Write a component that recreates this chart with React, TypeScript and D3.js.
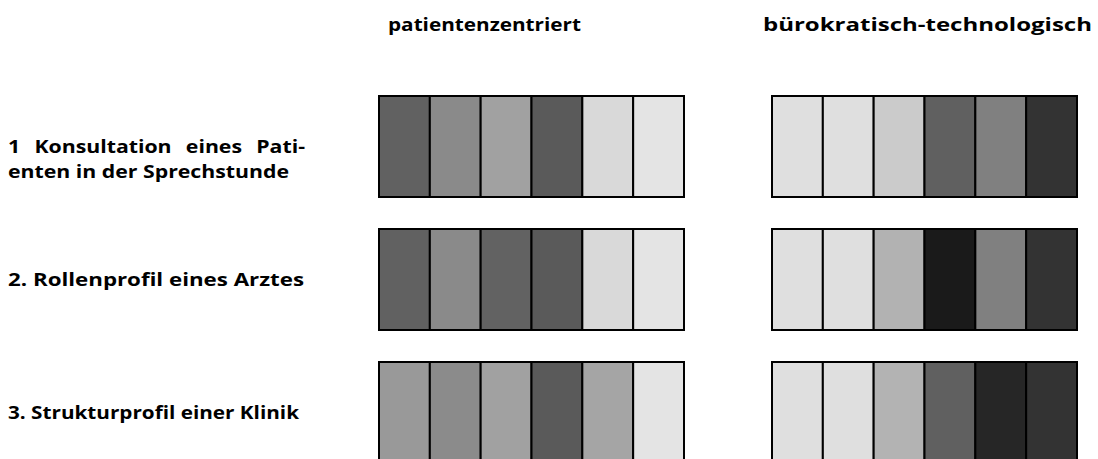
import React, { useEffect, useRef } from 'react'
import * as d3 from 'd3'

// column headings (the two profile types)
const groups = ['patientenzentriert', 'bürokratisch-technologisch']

// row labels, one array of lines per row
const rowLabels = [
  ['1 Konsultation eines Pati-', 'enten in der Sprechstunde'],
  ['2. Rollenprofil eines Arztes'],
  ['3. Strukturprofil einer Klinik']
]

// six cells per profile
const cells = ['c1', 'c2', 'c3', 'c4', 'c5', 'c6']

// grey level of each cell (0 = black, 255 = white)
const konsultationPatient = [97, 138, 161, 90, 217, 228]
const konsultationBuero = [223, 223, 203, 96, 128, 51]
const rollePatient = [97, 138, 98, 90, 217, 228]
const rolleBuero = [223, 223, 178, 26, 128, 51]
const strukturPatient = [153, 139, 161, 90, 165, 228]
const strukturBuero = [223, 223, 179, 96, 38, 51]

const values = [
  [konsultationPatient, konsultationBuero],
  [rollePatient, rolleBuero],
  [strukturPatient, strukturBuero]
]

const W = 1098
const H = 459
const FONT = '"Open Sans", Lato, sans-serif'
const FONT_SIZE = 18.5

const App = () => {
  const ref = useRef<SVGSVGElement>(null)

  useEffect(() => {
    const svg = d3.select(ref.current)
    svg.selectAll('*').remove()

    //D3 mathy bits
    const xGroup = d3.scaleOrdinal<string, number>().domain(groups).range([379, 772])
    const xCell = d3.scaleBand().domain(cells).range([0, 305])
    const yRow = d3.scaleLinear().domain([0, rowLabels.length]).range([96, 96 + 133 * rowLabels.length])
    const boxH = 101
    const grey = (v: number) => d3.rgb(v, v, v).toString()

    const addText = (s: string, x: number, y: number) =>
      svg
        .append('text')
        .attr('x', x)
        .attr('y', y)
        .attr('font-family', FONT)
        .attr('font-weight', 'bold')
        .attr('font-size', FONT_SIZE)
        .attr('fill', '#000')
        .text(s)
    const widthOf = (t) => (t.node() as SVGTextElement).getComputedTextLength()
    // squeeze/stretch the substitute font to the original's width
    const fit = (t, w: number) => t.attr('textLength', w).attr('lengthAdjust', 'spacingAndGlyphs')

    // headings
    const headX = [388, 763]
    const headW = [193, 329]
    groups.forEach((g, i) => {
      fit(addText(g, headX[i], 31), headW[i])
    })

    // cells
    values.forEach((row, r) => {
      row.forEach((series, gi) => {
        const gx = xGroup(groups[gi])
        svg
          .append('g')
          .selectAll('rect')
          .data(series)
          .join('rect')
          .attr('x', (_, i) => gx + xCell(cells[i]))
          .attr('y', yRow(r))
          .attr('width', xCell.bandwidth())
          .attr('height', boxH)
          .attr('fill', (d) => grey(d))
          .attr('stroke', '#000')
          .attr('stroke-width', 2)
      })
    })

    // row labels, right edge of each line
    const left = 8
    const lineEnd = [[305, 289], [304], [299]]

    // same horizontal factor as the wrapped second line
    const probe = addText(rowLabels[0][1], 0, -50)
    const k = (lineEnd[0][1] - left) / widthOf(probe)
    probe.remove()

    rowLabels.forEach((lines, r) => {
      lines.forEach((line, li) => {
        const y = yRow(r) + 57 + li * 25
        if (li === 0 && lines.length > 1) {
          // justified line: keep word widths, spread the gaps
          const words = line.split(' ')
          const texts = words.map((w) => addText(w, left, y))
          const ww = texts.map((t) => widthOf(t) * k)
          const gap = (lineEnd[r][0] - left - d3.sum(ww)) / (words.length - 1)
          let x = left
          texts.forEach((t, i) => {
            fit(t, ww[i]).attr('x', x)
            x += ww[i] + gap
          })
        } else {
          fit(addText(line, left, y), lineEnd[r][li] - left)
        }
      })
    })
  }, [])

  return (
    <svg
      ref={ref}
      width={W}
      height={H}
      style={{ position: 'absolute', left: 0, top: 0, background: '#fff' }}
    />
  )
}

export default App
